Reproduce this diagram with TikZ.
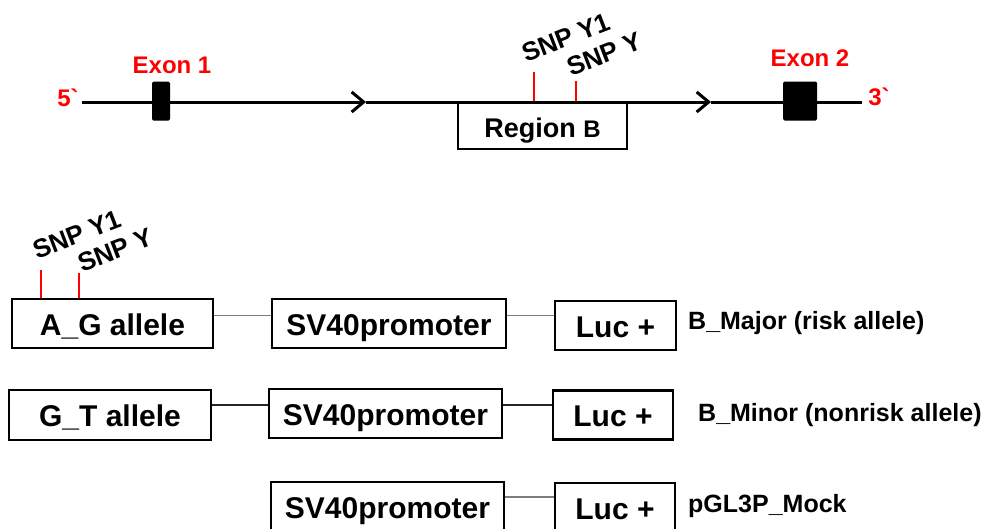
\documentclass[tikz,border=0pt]{standalone}
\usepackage{fontspec}
\setmainfont{Liberation Sans}[Ligatures=TeXOff]
\usepackage{xcolor}
\usepackage{tikz}
\usetikzlibrary{arrows.meta}
\definecolor{snpred}{RGB}{255,0,0}
\definecolor{linkgray}{RGB}{125,125,125}
\tikzset{
  strand/.style={line width=3pt},
  chevron/.style={-{Straight Barb[length=12pt,width=20pt,line width=3pt]}},
  box/.style={draw,line width=2.8pt,inner sep=0pt,minimum height=49pt,text height=23pt,text depth=0pt,font=\fontsize{30}{30}\selectfont\bfseries},
  exon/.style={fill=black,rounded corners=1.5pt,inner sep=0pt,minimum height=39pt},
  redlabel/.style={text=snpred,font=\fontsize{24}{24}\selectfont\bfseries},
  snplabel/.style={rotate=21,anchor=south west,inner sep=0pt,font=\fontsize{26}{26}\selectfont\bfseries},
  tick/.style={snpred,line width=2pt},
  link/.style={linkgray,line width=1.5pt},
  tag/.style={anchor=west,inner sep=0pt,font=\fontsize{25}{25}\selectfont\bfseries}
}

\begin{document}
\begin{tikzpicture}[x=1pt,y=-1pt]
  \clip (0,0) rectangle (990,528);
  \fill[white] (0,0) rectangle (990,528);
  % gene with two exons
  \node[redlabel] (five) at (68,98) {5`};
  \node[redlabel] (three) at (879,97) {3`};
  \node[box,minimum width=169pt,minimum height=47pt,font=\fontsize{27}{27}\selectfont\bfseries] (region) at (542.5,125.5) {Region {\fontsize{24}{24}\selectfont B}};
  \coordinate (arrA) at (366,102);
  \coordinate (arrB) at (711,102);
  \draw[strand,chevron] (82,102) -- (arrA);
  \draw[strand,chevron] (arrA) -- (arrB);
  \draw[strand] (arrB) -- (862,102);
  \node[exon,minimum width=18pt] (exonA) at (161,101) {};
  \node[exon,minimum width=34pt] (exonB) at (800,101) {};
  \node[redlabel] (exonAlab) at (172,65) {Exon 1};
  \node[redlabel] (exonBlab) at (810,58) {Exon 2};
  % SNPs in region B
  \draw[tick] (534,72) -- (534,101);
  \draw[tick] (576,81) -- (576,101);
  \node[snplabel] (snpYoneT) at (526,63) {SNP Y1};
  \node[snplabel] (snpYT) at (571,77) {SNP Y};

  % reporter constructs
  \node[box,minimum width=201pt] (ag) at (112.5,323.5) {A\_G allele};
  \node[box,minimum width=234pt] (svA) at (389,323.5) {SV40promoter};
  \node[box,minimum width=121pt] (lucA) at (615.5,325.5) {Luc +};
  \node[tag] (major) at (688,323) {B\_Major (risk allele)};
  \draw[link] ([yshift=8pt]ag.east) -- ([yshift=8pt]svA.west);
  \draw[link] ([yshift=8pt]svA.east) -- ([yshift=10pt]lucA.west);
  \draw[tick] (41,270) -- (41,298);
  \draw[tick] (79,273) -- (79,298);
  \node[snplabel] (snpYoneB) at (37,260) {SNP Y1};
  \node[snplabel] (snpYB) at (82,273) {SNP Y};

  \node[box,minimum width=202pt,minimum height=50pt] (gt) at (110,415) {G\_T allele};
  \node[box,minimum width=233pt] (svB) at (385.5,413.5) {SV40promoter};
  \node[box,minimum width=120pt] (lucB) at (613,415) {Luc +};
  \node[tag] (minor) at (698,415) {B\_Minor (nonrisk allele)};
  \draw[link,black!85] ([yshift=10pt]gt.east) -- ([yshift=8.5pt]svB.west);
  \draw[link,black!85] ([yshift=8.5pt]svB.east) -- ([yshift=10pt]lucB.west);

  \node[box,minimum width=233pt] (svC) at (387.5,506.5) {SV40promoter};
  \node[box,minimum width=120pt] (lucC) at (615,507.5) {Luc +};
  \node[tag] (mock) at (688,506) {pGL3P\_Mock};
  \draw[link] ([yshift=9.5pt]svC.east) -- ([yshift=10.5pt]lucC.west);
\end{tikzpicture}
\end{document}
